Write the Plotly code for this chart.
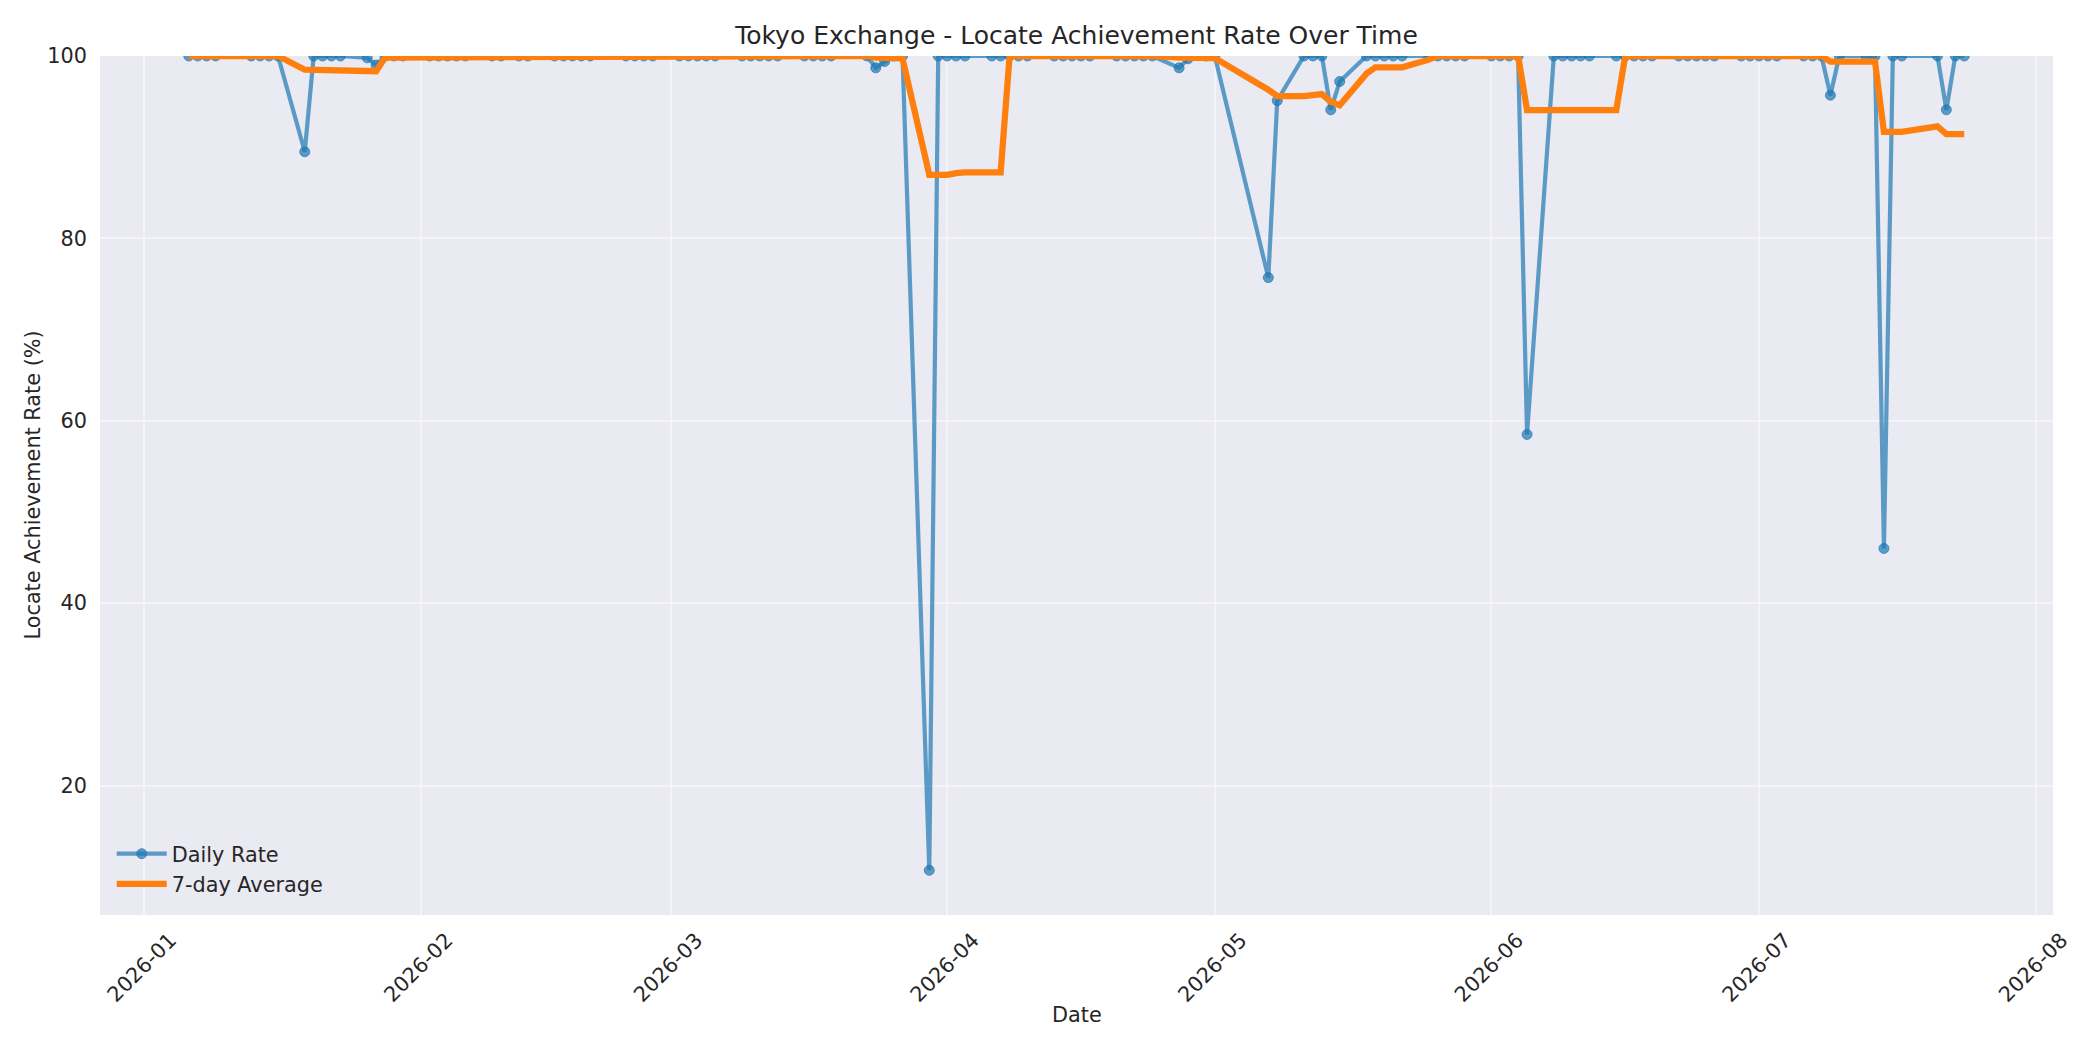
import pandas as pd
import plotly.graph_objects as go

# ---- data ----
dates = [
    "2026-01-06", "2026-01-07", "2026-01-08", "2026-01-09",
    "2026-01-13", "2026-01-14", "2026-01-15", "2026-01-16",
    "2026-01-19", "2026-01-20", "2026-01-21", "2026-01-22", "2026-01-23",
    "2026-01-26", "2026-01-27", "2026-01-28", "2026-01-29", "2026-01-30",
    "2026-02-02", "2026-02-03", "2026-02-04", "2026-02-05", "2026-02-06",
    "2026-02-09", "2026-02-10", "2026-02-12", "2026-02-13",
    "2026-02-16", "2026-02-17", "2026-02-18", "2026-02-19", "2026-02-20",
    "2026-02-24", "2026-02-25", "2026-02-26", "2026-02-27",
    "2026-03-02", "2026-03-03", "2026-03-04", "2026-03-05", "2026-03-06",
    "2026-03-09", "2026-03-10", "2026-03-11", "2026-03-12", "2026-03-13",
    "2026-03-16", "2026-03-17", "2026-03-18", "2026-03-19",
    "2026-03-23", "2026-03-24", "2026-03-25", "2026-03-26", "2026-03-27",
    "2026-03-30", "2026-03-31", "2026-04-01", "2026-04-02", "2026-04-03",
    "2026-04-06", "2026-04-07", "2026-04-08", "2026-04-09", "2026-04-10",
    "2026-04-13", "2026-04-14", "2026-04-15", "2026-04-16", "2026-04-17",
    "2026-04-20", "2026-04-21", "2026-04-22", "2026-04-23", "2026-04-24",
    "2026-04-27", "2026-04-28", "2026-04-30", "2026-05-01",
    "2026-05-07", "2026-05-08",
    "2026-05-11", "2026-05-12", "2026-05-13", "2026-05-14", "2026-05-15",
    "2026-05-18", "2026-05-19", "2026-05-20", "2026-05-21", "2026-05-22",
    "2026-05-25", "2026-05-26", "2026-05-27", "2026-05-28", "2026-05-29",
    "2026-06-01", "2026-06-02", "2026-06-03", "2026-06-04", "2026-06-05",
    "2026-06-08", "2026-06-09", "2026-06-10", "2026-06-11", "2026-06-12",
    "2026-06-15", "2026-06-16", "2026-06-17", "2026-06-18", "2026-06-19",
    "2026-06-22", "2026-06-23", "2026-06-24", "2026-06-25", "2026-06-26",
    "2026-06-29", "2026-06-30", "2026-07-01", "2026-07-02", "2026-07-03",
    "2026-07-06", "2026-07-07", "2026-07-08", "2026-07-09", "2026-07-10",
    "2026-07-13", "2026-07-14", "2026-07-15", "2026-07-16", "2026-07-17",
    "2026-07-21", "2026-07-22", "2026-07-23", "2026-07-24",
]

daily_rate = [
    100, 100, 100, 100,
    100, 100, 100, 100,
    89.5, 100, 100, 100, 100,
    99.8, 99.0, 100, 100, 100,
    100, 100, 100, 100, 100,
    100, 100, 100, 100,
    100, 100, 100, 100, 100,
    100, 100, 100, 100,
    100, 100, 100, 100, 100,
    100, 100, 100, 100, 100,
    100, 100, 100, 100,
    100, 98.7, 99.4, 100, 100,
    10.7, 100, 100, 100, 100,
    100, 100, 100, 100, 100,
    100, 100, 100, 100, 100,
    100, 100, 100, 100, 100,
    98.7, 99.7, 100, 100,
    75.7, 95.1,
    100, 100, 100, 94.1, 97.2,
    100, 100, 100, 100, 100,
    100, 100, 100, 100, 100,
    100, 100, 100, 100, 58.5,
    100, 100, 100, 100, 100,
    100, 100, 100, 100, 100,
    100, 100, 100, 100, 100,
    100, 100, 100, 100, 100,
    100, 100, 100, 95.7, 100,
    100, 100, 46.0, 100, 100,
    100, 94.1, 100, 100,
]

avg_7day = [
    100, 100, 100, 100,
    100, 100, 100, 100,
    98.50, 98.50, 98.50, 98.50, 98.50,
    98.47, 98.33, 99.83, 99.83, 99.83,
    99.83, 99.83, 99.86, 100, 100,
    100, 100, 100, 100,
    100, 100, 100, 100, 100,
    100, 100, 100, 100,
    100, 100, 100, 100, 100,
    100, 100, 100, 100, 100,
    100, 100, 100, 100,
    100, 99.81, 99.73, 99.73, 99.73,
    86.97, 86.97, 86.97, 87.16, 87.24,
    87.24, 87.24, 100, 100, 100,
    100, 100, 100, 100, 100,
    100, 100, 100, 100, 100,
    99.81, 99.77, 99.77, 99.77,
    96.30, 95.60,
    95.60, 95.79, 95.83, 94.99, 94.59,
    98.06, 98.76, 98.76, 98.76, 98.76,
    99.60, 100, 100, 100, 100,
    100, 100, 100, 100, 94.07,
    94.07, 94.07, 94.07, 94.07, 94.07,
    94.07, 100, 100, 100, 100,
    100, 100, 100, 100, 100,
    100, 100, 100, 100, 100,
    100, 100, 100, 99.39, 99.39,
    99.39, 99.39, 91.67, 91.67, 91.67,
    92.29, 91.44, 91.44, 91.44,
]

x_tick_dates = ["2026-01-01", "2026-02-01", "2026-03-01", "2026-04-01",
                "2026-05-01", "2026-06-01", "2026-07-01", "2026-08-01"]
x_tick_labels = ["2026-01", "2026-02", "2026-03", "2026-04",
                 "2026-05", "2026-06", "2026-07", "2026-08"]
y_ticks = [20, 40, 60, 80, 100]

# ---- styling ----
FONT = "DejaVu Sans"
TEXT = "#262626"
BLUE = "rgba(31,119,180,0.7)"
ORANGE = "#ff7f0e"

dt = pd.to_datetime(dates)
span = dt.max() - dt.min()
x_range = [dt.min() - 0.05 * span, dt.max() + 0.05 * span]

fig = go.Figure()
fig.add_trace(go.Scatter(
    x=dt, y=daily_rate, name="Daily Rate", mode="lines+markers",
    line=dict(color=BLUE, width=4.2),
    marker=dict(color=BLUE, size=10, line=dict(color=BLUE, width=1)),
))
fig.add_trace(go.Scatter(
    x=dt, y=avg_7day, name="7-day Average", mode="lines",
    line=dict(color=ORANGE, width=6.25),
))

fig.update_layout(
    width=2100, height=1050,
    margin=dict(l=100, r=47, t=56, b=135, autoexpand=False),
    paper_bgcolor="white",
    plot_bgcolor="#EAEAF2",
    font=dict(family=FONT, size=20.8, color=TEXT),
    title=dict(text="Tokyo Exchange - Locate Achievement Rate Over Time",
               x=(100 + 2053) / 2 / 2100, xanchor="center",
               y=1 - 35 / 1050, yanchor="middle",
               font=dict(size=25, color=TEXT, family=FONT)),
    showlegend=True,
    legend=dict(x=0.006, y=0.012, xanchor="left", yanchor="bottom",
                bgcolor="rgba(0,0,0,0)", borderwidth=0,
                font=dict(size=20.8, color=TEXT, family=FONT),
                itemwidth=50, tracegroupgap=0),
    xaxis=dict(
        range=x_range, tickvals=pd.to_datetime(x_tick_dates), ticktext=x_tick_labels,
        tickangle=-45, showgrid=True, gridcolor="rgba(255,255,255,0.45)", gridwidth=2,
        zeroline=False, showline=False, ticks="", ticklabelstandoff=8,
        ticklabelshift=26,
        tickfont=dict(size=20.8, color=TEXT), automargin=False,
    ),
    yaxis=dict(
        range=[5.8, 100], tickvals=y_ticks, showgrid=True,
        gridcolor="rgba(255,255,255,0.45)", gridwidth=2,
        zeroline=False, showline=False, ticks="", ticklabelstandoff=12,
        tickfont=dict(size=20.8, color=TEXT), automargin=False,
    ),
    annotations=[
        dict(text="Date", xref="paper", yref="paper", x=0.5, y=-100 / 859,
             xanchor="center", yanchor="middle", showarrow=False,
             font=dict(size=20.8, color=TEXT, family=FONT)),
        dict(text="Locate Achievement Rate (%)", xref="paper", yref="paper",
             x=(32 - 100) / 1953, y=0.5, textangle=-90,
             xanchor="center", yanchor="middle", showarrow=False,
             font=dict(size=20.8, color=TEXT, family=FONT)),
    ],
)

fig.write_html("out.html", config={"displayModeBar": False},
               post_script="document.body.style.margin='0px';")
